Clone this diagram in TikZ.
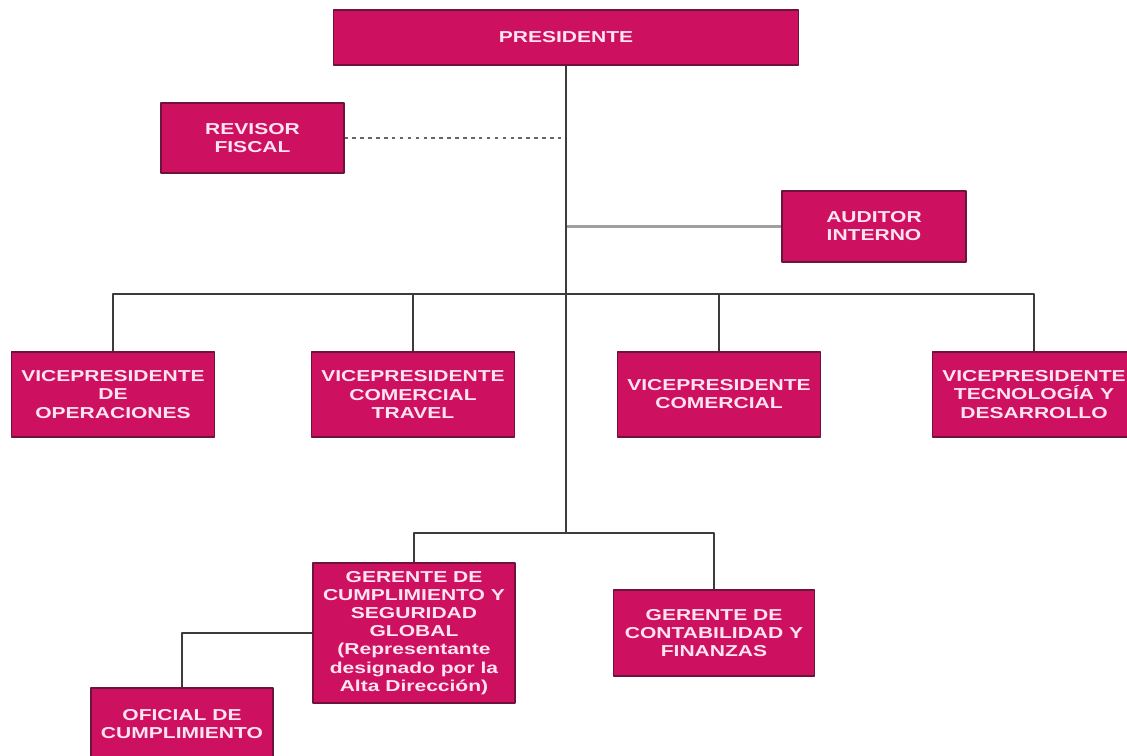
\documentclass[tikz,border=0pt]{standalone}
\usepackage{fontspec}
\setmainfont{Liberation Sans}[FakeStretch=1.33]
\definecolor{fucsia}{RGB}{206,16,96}
\definecolor{borde}{RGB}{110,20,60}
\definecolor{rosa}{RGB}{255,228,240}
\definecolor{linea}{RGB}{60,60,60}
\tikzset{
	cargo/.style={draw=borde, line width=.6pt, fill=fucsia, text=rosa, align=center, inner sep=2pt,
		font=\bfseries\fontsize{9}{10.3}\selectfont},
	enlace/.style={linea, line width=1.1pt}
}
\begin{document}
\begin{tikzpicture}[x=.02cm, y=-.02cm, line join=round]
		\clip(0,0)rectangle(1127,756);
		\fill[white](0,0)rectangle(1127,756);
		% cargos
		\node[cargo, minimum width=9.32cm, minimum height=1.1cm] (pres) at (566,37.5) {PRESIDENTE};
		\node[cargo, minimum width=3.66cm, minimum height=1.4cm] (rev) at (252.5,138) {REVISOR\\FISCAL};
		\node[cargo, minimum width=3.68cm, minimum height=1.42cm] (aud) at (874,226.5) {AUDITOR\\INTERNO};
		\node[cargo, minimum width=4.06cm, minimum height=1.7cm] (vpa) at (113,394.5) {VICEPRESIDENTE\\DE\\OPERACIONES};
		\node[cargo, minimum width=4.06cm, minimum height=1.7cm] (vpb) at (413,394.5) {VICEPRESIDENTE\\COMERCIAL\\TRAVEL};
		\node[cargo, minimum width=4.06cm, minimum height=1.7cm] (vpc) at (719,394.5) {VICEPRESIDENTE\\COMERCIAL};
		\node[cargo, minimum width=4.06cm, minimum height=1.7cm] (vpd) at (1034,394.5) {VICEPRESIDENTE\\TECNOLOGÍA Y\\DESARROLLO};
		\node[cargo, minimum width=4.04cm, minimum height=2.8cm] (gcs) at (414,633) {GERENTE DE\\CUMPLIMIENTO Y\\SEGURIDAD\\GLOBAL\\(Representante\\designado por la\\Alta Dirección)};
		\node[cargo, minimum width=4.02cm, minimum height=1.72cm] (gcf) at (714,633) {GERENTE DE\\CONTABILIDAD Y\\FINANZAS};
		\node[cargo, minimum width=3.64cm, minimum height=1.44cm] (ofi) at (182,724) {OFICIAL DE\\CUMPLIMIENTO};
		% lineas
		\coordinate (bus) at (566,294);
		\coordinate (bajo) at (566,533);
		\draw[enlace, line width=.8pt, gray!80!black, dash pattern=on 2pt off 2.5pt](rev.east)--(rev.east-|bus);
		\draw[enlace, line width=1.6pt, gray!75](aud.west)--(aud.west-|bus);
		\draw[enlace](pres.south)--(bajo);
		\draw[enlace](vpa.north)|-(bus)-|(vpd.north);
		\foreach \v in {vpb,vpc}\draw[enlace](\v.north)|-(bus);
		\draw[enlace](gcs.north)|-(bajo)-|(gcf.north);
		\draw[enlace](gcs.west)-|(ofi.north);
	\end{tikzpicture}
\end{document}
